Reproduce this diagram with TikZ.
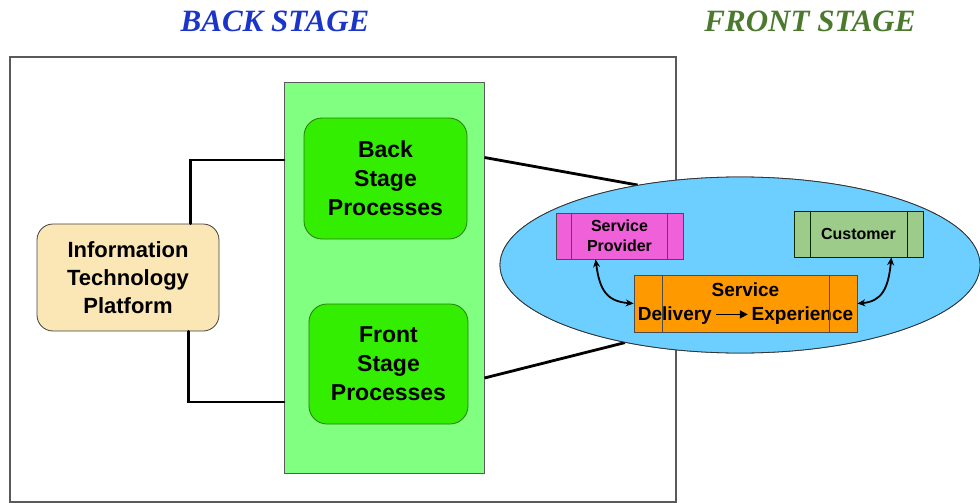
\documentclass[tikz,border=0pt]{standalone}
\usepackage{fontspec}
\setmainfont{Liberation Serif}
\newfontfamily\arialf{Liberation Sans}
\usetikzlibrary{shapes.geometric,arrows.meta,calc}
\definecolor{backblue}{HTML}{1A35C8}
\definecolor{frontgreen}{HTML}{4B7A2E}
\definecolor{grnfill}{HTML}{80FF80}
\definecolor{procfill}{HTML}{33EE00}
\definecolor{procborder}{HTML}{2A7A10}
\definecolor{itpfill}{HTML}{FBE6B5}
\definecolor{ellfill}{HTML}{6CCFFF}
\definecolor{spfill}{HTML}{F060D8}
\definecolor{custfill}{HTML}{9CCB8A}
\definecolor{sdfill}{HTML}{FF9900}
\definecolor{framegray}{HTML}{5A5A5A}
\begin{document}
\begin{tikzpicture}[x=1pt,y=-1pt,
  titletext/.style={font=\fontsize{31}{34}\selectfont\bfseries\itshape},
  procbox/.style={draw=procborder, fill=procfill, rounded corners=18pt, line width=0.8pt,
    minimum width=163pt, minimum height=121pt, align=center,
    font=\arialf\bfseries\fontsize{23}{29}\selectfont},
  itpbox/.style={draw=black!75, fill=itpfill, rounded corners=16pt, line width=0.8pt,
    minimum width=182pt, minimum height=107pt, align=center,
    font=\arialf\bfseries\fontsize{22}{28}\selectfont},
  sbox/.style={draw=black!70, line width=0.7pt, rectangle, align=center, inner sep=0pt},
  conn/.style={line width=2.8pt, black},
  dbl/.style={line width=1.8pt, black, {Stealth[length=8pt,width=7pt]}-{Stealth[length=8pt,width=7pt]}}
]
\useasboundingbox (0,0) rectangle (980,503);
% titles
\node[titletext, text=backblue] (tback) at (275,21) {BACK STAGE};
\node[titletext, text=frontgreen] (tfront) at (810,21) {FRONT STAGE};
% outer frame
\draw[framegray, line width=1.6pt] (10,57) rectangle (676,502);
% green container
\node[draw=framegray, fill=grnfill, line width=1pt, minimum width=200pt, minimum height=390pt, inner sep=0pt] (grn) at (384,278) {};
% process boxes
\node[procbox] (bsp) at (385.5,178.5) {Back\\Stage\\Processes};
\node[procbox, minimum width=159pt, minimum height=120pt] (fsp) at (388.5,364) {Front\\Stage\\Processes};
% IT platform
\node[itpbox] (itp) at (128,277.5) {Information\\Technology\\Platform};
% elbow connectors
\coordinate (itpt) at ($(itp.north east)+(-29,0)$);
\coordinate (itpb) at ($(itp.south east)+(-31,0)$);
\coordinate (g1) at (284,160);
\coordinate (g2) at (284,402);
\draw[conn, line cap=round] (itpt) |- (g1);
\draw[conn, line cap=round] (itpb) |- (g2);
% lines to the ellipse
\coordinate (r1) at ($(bsp.east)+(0,-21)$);
\coordinate (r2) at ($(fsp.east)+(0,14)$);
\node[ellipse, draw=black!80, fill=ellfill, line width=0.8pt, minimum width=480pt, minimum height=176pt, inner sep=0pt] (ell) at (740,265) {};
\draw[conn] (r1 -| grn.east) -- (ell.142);
\draw[conn] (r2 -| grn.east) -- (ell.214);
% redraw ellipse on top of the line ends
\node[ellipse, draw=black!80, fill=ellfill, line width=0.8pt, minimum width=480pt, minimum height=176pt, inner sep=0pt] (ell2) at (740,265) {};
% inner boxes
\node[sbox, fill=spfill, minimum width=127pt, minimum height=46pt,
  font=\arialf\bfseries\fontsize{16}{20}\selectfont] (sp) at (619.5,236) {Service\\Provider};
\draw[black!70, line width=0.7pt] ($(sp.north west)+(16,0)$) -- ($(sp.south west)+(16,0)$);
\draw[black!70, line width=0.7pt] ($(sp.north east)+(-16,0)$) -- ($(sp.south east)+(-16,0)$);
\node[sbox, fill=custfill, draw=black!60!green!40!black, minimum width=129pt, minimum height=46pt,
  font=\arialf\bfseries\fontsize{16}{20}\selectfont] (cust) at (858.5,234) {Customer};
\draw[black!60!green!40!black, line width=0.7pt] ($(cust.north west)+(17,0)$) -- ($(cust.south west)+(17,0)$);
\draw[black!60!green!40!black, line width=0.7pt] ($(cust.north east)+(-16,0)$) -- ($(cust.south east)+(-16,0)$);
\node[sbox, fill=sdfill, minimum width=223pt, minimum height=57pt,
  font=\arialf\bfseries\fontsize{19}{24}\selectfont] (sd) at (745.5,303.5)
  {Service\\Delivery\,\tikz[baseline=-6pt]\draw[line width=1.6pt,-{Triangle[length=8pt,width=8pt]}] (0pt,0pt) -- (32pt,0pt);\,Experience};
\draw[black!70, line width=0.7pt] ($(sd.north west)+(29,0)$) -- ($(sd.south west)+(29,0)$);
\draw[black!70, line width=0.7pt] ($(sd.north east)+(-28,0)$) -- ($(sd.south east)+(-28,0)$);
% curved double arrows
\coordinate (spb) at ($(sp.south west)+(40,0)$);
\coordinate (cub) at ($(cust.south east)+(-32,0)$);
\draw[dbl] (spb) .. controls +(4,32) and +(-26,-2) .. (sd.west);
\draw[dbl] (cub) .. controls +(-3,32) and +(24,-2) .. (sd.east);
\end{tikzpicture}
\end{document}
